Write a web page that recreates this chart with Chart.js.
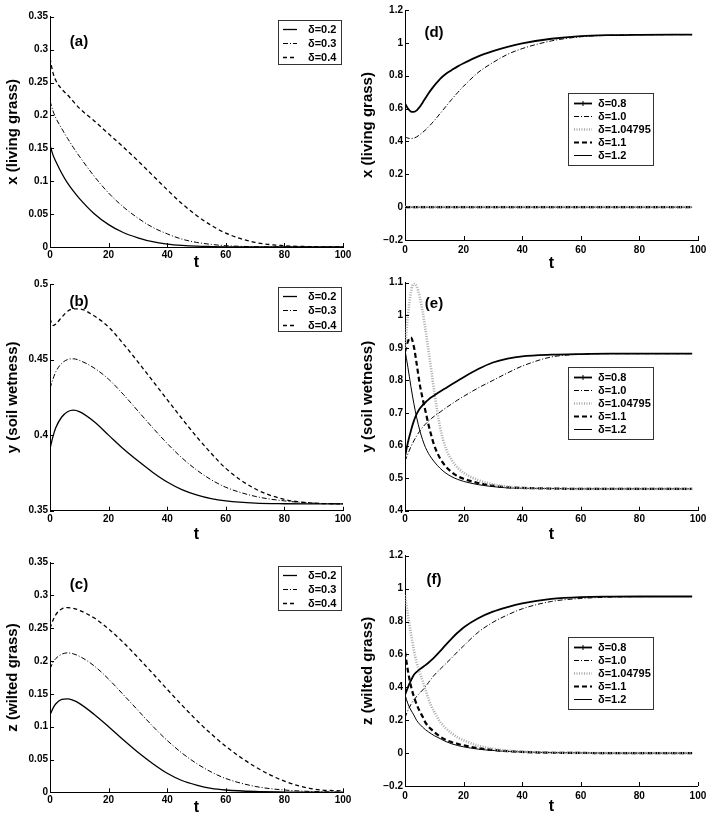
<!DOCTYPE html>
<html>
<head>
<meta charset="utf-8">
<script src="https://cdn.jsdelivr.net/npm/chart.js@4.4.1/dist/chart.umd.min.js"></script>
<style>
  body { margin: 0; background: #fff; }
  #fig { position: relative; width: 711px; height: 819px; overflow: hidden; background: #fff; }
  #fig canvas { position: absolute; }
</style>
</head>
<body>
<div id="fig">
  <canvas id="pa" width="355" height="280" style="left:0;top:0"></canvas>
  <canvas id="pb" width="355" height="280" style="left:0;top:270px"></canvas>
  <canvas id="pc" width="355" height="280" style="left:0;top:540px"></canvas>
  <canvas id="pd" width="356" height="280" style="left:355px;top:0"></canvas>
  <canvas id="pe" width="356" height="280" style="left:355px;top:270px"></canvas>
  <canvas id="pf" width="356" height="280" style="left:355px;top:540px"></canvas>
</div>
<script>
// time samples
const tLeft  = [0, 1, 2, 4, 6, 8, 10, 15, 20, 25, 30, 35, 40, 45, 50, 55, 60, 70, 80, 90, 100]
const tRight = [0, 1, 2, 3, 4, 5, 6, 7, 8, 9, 10, 12, 14, 16, 18, 20, 25, 30, 35, 40, 50, 60, 70, 80, 98]

const leftLabels  = ['δ=0.2', 'δ=0.3', 'δ=0.4']
const rightLabels = ['δ=0.8', 'δ=1.0', 'δ=1.04795', 'δ=1.1', 'δ=1.2']

// (a) x, living grass
const xD02 = [0.155, 0.140, 0.130, 0.112, 0.097, 0.085, 0.074, 0.051, 0.034, 0.022, 0.014, 0.008, 0.0045, 0.0025, 0.0013, 0.0007, 0.0003, 0.0001, 0, 0, 0]
const xD03 = [0.222, 0.207, 0.196, 0.180, 0.165, 0.151, 0.138, 0.108, 0.082, 0.061, 0.044, 0.030, 0.020, 0.012, 0.007, 0.004, 0.002, 0.0005, 0.0001, 0, 0]
const xD04 = [0.287, 0.265, 0.253, 0.240, 0.231, 0.221, 0.211, 0.192, 0.172, 0.152, 0.131, 0.109, 0.087, 0.066, 0.048, 0.033, 0.021, 0.007, 0.002, 0.0005, 0]

// (b) y, soil wetness
const yD02 = [0.391, 0.399, 0.405, 0.412, 0.4155, 0.4165, 0.4155, 0.409, 0.400, 0.391, 0.383, 0.3755, 0.369, 0.364, 0.3605, 0.358, 0.3565, 0.355, 0.3546, 0.3545, 0.3545]
const yD03 = [0.431, 0.437, 0.442, 0.4475, 0.450, 0.4505, 0.4495, 0.4445, 0.437, 0.427, 0.416, 0.405, 0.3945, 0.385, 0.377, 0.3705, 0.3655, 0.3595, 0.3565, 0.355, 0.3545]
const yD04 = [0.477, 0.4725, 0.4735, 0.478, 0.482, 0.4835, 0.4835, 0.479, 0.4715, 0.4605, 0.4485, 0.436, 0.4235, 0.411, 0.399, 0.388, 0.378, 0.3645, 0.3575, 0.355, 0.3545]

// (c) z, wilted grass
const zD02 = [0.118, 0.128, 0.135, 0.1415, 0.1425, 0.140, 0.1355, 0.119, 0.100, 0.080, 0.061, 0.044, 0.029, 0.018, 0.011, 0.006, 0.0035, 0.0012, 0.0004, 0.0001, 0]
const zD03 = [0.188, 0.198, 0.204, 0.2105, 0.2125, 0.211, 0.2075, 0.193, 0.1725, 0.149, 0.125, 0.101, 0.079, 0.060, 0.044, 0.031, 0.021, 0.009, 0.0035, 0.0012, 0.0004]
const zD04 = [0.250, 0.262, 0.271, 0.2795, 0.2815, 0.2805, 0.2775, 0.266, 0.249, 0.2285, 0.2055, 0.1815, 0.157, 0.133, 0.110, 0.089, 0.070, 0.039, 0.017, 0.005, 0.002]

// (d) x, living grass
const xD08  = [0.632, 0.600, 0.582, 0.580, 0.589, 0.610, 0.636, 0.664, 0.692, 0.717, 0.740, 0.781, 0.812, 0.835, 0.857, 0.876, 0.918, 0.950, 0.976, 0.997, 1.025, 1.041, 1.047, 1.049, 1.050]
const xD10  = [0.429, 0.420, 0.418, 0.420, 0.428, 0.440, 0.455, 0.470, 0.488, 0.507, 0.527, 0.570, 0.614, 0.657, 0.698, 0.736, 0.820, 0.880, 0.930, 0.965, 1.012, 1.037, 1.046, 1.049, 1.050]
const xD105 = [0, 0, 0, 0, 0, 0, 0, 0, 0, 0, 0, 0, 0, 0, 0, 0, 0, 0, 0, 0, 0, 0, 0, 0, 0]
const xD11  = [0, 0, 0, 0, 0, 0, 0, 0, 0, 0, 0, 0, 0, 0, 0, 0, 0, 0, 0, 0, 0, 0, 0, 0, 0]
const xD12  = [0, 0, 0, 0, 0, 0, 0, 0, 0, 0, 0, 0, 0, 0, 0, 0, 0, 0, 0, 0, 0, 0, 0, 0, 0]

// (e) y, soil wetness
const yD08  = [0.566, 0.610, 0.645, 0.675, 0.697, 0.713, 0.724, 0.733, 0.741, 0.748, 0.754, 0.766, 0.777, 0.788, 0.799, 0.810, 0.835, 0.855, 0.867, 0.874, 0.879, 0.881, 0.882, 0.882, 0.882]
const yD10  = [0.552, 0.575, 0.596, 0.614, 0.630, 0.644, 0.656, 0.666, 0.675, 0.683, 0.690, 0.703, 0.716, 0.728, 0.740, 0.751, 0.777, 0.800, 0.823, 0.844, 0.872, 0.880, 0.882, 0.882, 0.882]
const yD105 = [0.900, 1.000, 1.070, 1.097, 1.088, 1.058, 1.012, 0.955, 0.893, 0.830, 0.765, 0.655, 0.590, 0.555, 0.532, 0.516, 0.494, 0.481, 0.474, 0.470, 0.468, 0.467, 0.467, 0.467, 0.467]
const yD11  = [0.888, 0.920, 0.932, 0.905, 0.850, 0.790, 0.745, 0.705, 0.665, 0.630, 0.600, 0.560, 0.535, 0.518, 0.506, 0.498, 0.485, 0.477, 0.472, 0.470, 0.468, 0.467, 0.467, 0.467, 0.467]
const yD12  = [0.893, 0.840, 0.782, 0.730, 0.685, 0.648, 0.618, 0.594, 0.576, 0.562, 0.550, 0.530, 0.515, 0.504, 0.496, 0.490, 0.480, 0.474, 0.470, 0.469, 0.468, 0.467, 0.467, 0.467, 0.467]

// (f) z, wilted grass
const zD08  = [0.353, 0.400, 0.440, 0.475, 0.494, 0.509, 0.522, 0.535, 0.549, 0.565, 0.582, 0.620, 0.660, 0.698, 0.733, 0.764, 0.820, 0.860, 0.888, 0.910, 0.937, 0.948, 0.951, 0.952, 0.952]
const zD10  = [0.215, 0.260, 0.295, 0.322, 0.345, 0.365, 0.383, 0.405, 0.428, 0.452, 0.474, 0.510, 0.545, 0.580, 0.617, 0.652, 0.735, 0.795, 0.840, 0.877, 0.922, 0.940, 0.948, 0.951, 0.952]
const zD105 = [0.960, 0.840, 0.730, 0.630, 0.550, 0.490, 0.440, 0.385, 0.330, 0.285, 0.250, 0.190, 0.150, 0.120, 0.095, 0.078, 0.045, 0.026, 0.015, 0.009, 0.003, 0.001, 0, 0, 0]
const zD11  = [0.616, 0.500, 0.410, 0.345, 0.295, 0.255, 0.222, 0.185, 0.162, 0.144, 0.128, 0.100, 0.080, 0.066, 0.056, 0.047, 0.030, 0.019, 0.012, 0.007, 0.002, 0.001, 0, 0, 0]
const zD12  = [0.355, 0.300, 0.262, 0.232, 0.198, 0.176, 0.158, 0.142, 0.129, 0.117, 0.106, 0.088, 0.070, 0.056, 0.046, 0.038, 0.024, 0.016, 0.010, 0.007, 0.003, 0.001, 0, 0, 0]

const FONT = '"Liberation Sans", Arial, sans-serif'

const leftStyles = [
  { borderColor: '#000', borderWidth: 1.3, borderDash: [] },
  { borderColor: '#000', borderWidth: 1, borderDash: [5, 2, 1, 2] },
  { borderColor: '#000', borderWidth: 1.3, borderDash: [4, 3] },
]
const rightStyles = [
  { borderColor: '#000', borderWidth: 1.8, borderDash: [], marker: true },
  { borderColor: '#000', borderWidth: 1, borderDash: [5, 2, 1, 2] },
  { borderColor: '#a9a9a9', borderWidth: 2.6, borderDash: [1, 1.5] },
  { borderColor: '#000', borderWidth: 2.2, borderDash: [5, 3] },
  { borderColor: '#000', borderWidth: 1, borderDash: [] },
]

const toPts = (ts, vs) => ts.map((t, i) => ({ x: t, y: vs[i] }))

// axis ticks pointing inward, panel tag and the boxed legend
const panelDecor = {
  id: 'panelDecor',
  afterDraw(chart, args, o) {
    const { ctx, chartArea: a, scales: { x, y } } = chart
    ctx.save()
    ctx.strokeStyle = '#000'
    ctx.lineWidth = 1
    ctx.setLineDash([])
    x.ticks.forEach(tk => {
      const px = Math.round(x.getPixelForValue(tk.value)) + 0.5
      ctx.beginPath(); ctx.moveTo(px, a.bottom); ctx.lineTo(px, a.bottom - 4); ctx.stroke()
    })
    y.ticks.forEach(tk => {
      const py = Math.round(y.getPixelForValue(tk.value)) + 0.5
      ctx.beginPath(); ctx.moveTo(a.left, py); ctx.lineTo(a.left + 4, py); ctx.stroke()
    })

    ctx.fillStyle = '#000'
    ctx.font = 'bold 15px ' + FONT
    ctx.textAlign = 'center'
    ctx.textBaseline = 'middle'
    ctx.fillText(o.tag, a.left + 29, a.top + o.tagDy)

    let bx, by, bw, bh, row0, rowH, l0, l1, tx
    if (o.legend === 'left') {
      bx = a.right - 65; by = a.top + 3; bw = 63; bh = 44
      row0 = 9; rowH = 14.3; l0 = 5; l1 = 19; tx = 30
    } else {
      bx = a.left + 163; by = a.top + o.legendDy; bw = 85; bh = 72
      row0 = 10; rowH = 13; l0 = 6; l1 = 24; tx = 30
    }
    ctx.fillStyle = '#fff'
    ctx.fillRect(bx, by, bw, bh)
    ctx.strokeStyle = '#333'
    ctx.strokeRect(Math.round(bx) + 0.5, Math.round(by) + 0.5, bw, bh)
    chart.data.datasets.forEach((ds, i) => {
      const yy = Math.round(by + row0 + i * rowH) + 0.5
      ctx.strokeStyle = ds.borderColor
      ctx.lineWidth = ds.borderWidth
      ctx.setLineDash(ds.borderDash)
      ctx.beginPath(); ctx.moveTo(bx + l0, yy); ctx.lineTo(bx + l1, yy); ctx.stroke()
      if (ds.marker) {
        const mx = bx + (l0 + l1) / 2
        ctx.lineWidth = 1
        ctx.setLineDash([])
        ctx.beginPath(); ctx.moveTo(mx, yy - 2.5); ctx.lineTo(mx, yy + 2.5); ctx.stroke()
      }
      ctx.fillStyle = '#000'
      ctx.font = 'bold 11px ' + FONT
      ctx.textAlign = 'left'
      ctx.fillText(ds.label, bx + tx, yy)
    })
    ctx.restore()
  }
}

const fmt = v => {
  const s = String(Number(v.toFixed(3)))
  return s.replace('-', '\u2212')
}

const makePanel = (p) => {
  const styles = p.series.length === 3 ? leftStyles : rightStyles
  const labels = p.series.length === 3 ? leftLabels : rightLabels
  const datasets = p.series.map((vals, i) => Object.assign({
    label: labels[i],
    data: toPts(p.t, vals),
    pointRadius: 0,
    fill: false,
    cubicInterpolationMode: 'monotone',
  }, styles[i]))

  return new Chart(document.getElementById(p.id), {
    type: 'line',
    data: { datasets },
    options: {
      responsive: false,
      animation: false,
      events: [],
      layout: { padding: { left: 0, right: p.padRight, top: p.padTop, bottom: 0 } },
      scales: {
        x: {
          type: 'linear', min: 0, max: 100,
          grid: { display: false, drawTicks: false },
          border: { display: true, color: '#000', width: 1 },
          ticks: { stepSize: 20, padding: p.tickPad, color: '#000', maxRotation: 0, autoSkip: false,
                   font: { family: FONT, size: 10, weight: 'bold' } },
          title: { display: true, text: 't', color: '#000',
                   font: { family: FONT, size: 16, weight: 'bold' },
                   padding: { top: 0, bottom: 280 - p.tY - 9.6 } },
          afterFit: s => { s.height = 280 - p.plotBottom }
        },
        y: {
          type: 'linear', min: p.yMin, max: p.yMax,
          grid: { display: false, drawTicks: false },
          border: { display: true, color: '#000', width: 1 },
          ticks: { stepSize: p.yStep, padding: 2, color: '#000', autoSkip: false,
                   font: { family: FONT, size: 10, weight: 'bold' }, callback: fmt },
          title: { display: true, text: p.yTitle, color: '#000',
                   font: { family: FONT, size: 15, weight: 'bold' },
                   padding: { top: 4, bottom: 0 } },
          afterFit: s => { s.width = 50 }
        }
      },
      plugins: {
        legend: { display: false },
        tooltip: { enabled: false },
        panelDecor: { tag: p.tag, tagDy: p.tagDy, legend: p.legend, legendDy: p.legendDy }
      }
    },
    plugins: [panelDecor]
  })
}

const panels = [
  { id: 'pa', tag: '(a)', yTitle: 'x (living grass)', yMin: 0, yMax: 0.35, yStep: 0.05, t: tLeft,
    series: [xD02, xD03, xD04], legend: 'left', padRight: 12, padTop: 16.7, plotBottom: 247, tickPad: 2.7, tY: 263, tagDy: 25 },
  { id: 'pb', tag: '(b)', yTitle: 'y (soil wetness)', yMin: 0.35, yMax: 0.5, yStep: 0.05, t: tLeft,
    series: [yD02, yD03, yD04], legend: 'left', padRight: 12, padTop: 14, plotBottom: 240.7, tickPad: 2.6, tY: 265, tagDy: 17.7 },
  { id: 'pc', tag: '(c)', yTitle: 'z (wilted grass)', yMin: 0, yMax: 0.35, yStep: 0.05, t: tLeft,
    series: [zD02, zD03, zD04], legend: 'left', padRight: 12, padTop: 22.7, plotBottom: 252.3, tickPad: 1.7, tY: 268, tagDy: 22.3 },
  { id: 'pd', tag: '(d)', yTitle: 'x (living grass)', yMin: -0.2, yMax: 1.2, yStep: 0.2, t: tRight,
    series: [xD08, xD10, xD105, xD11, xD12], legend: 'right', legendDy: 83, padRight: 13, padTop: 10, plotBottom: 240, tickPad: 4, tY: 263.3, tagDy: 22.7 },
  { id: 'pe', tag: '(e)', yTitle: 'y (soil wetness)', yMin: 0.4, yMax: 1.1, yStep: 0.1, t: tRight,
    series: [yD08, yD10, yD105, yD11, yD12], legend: 'right', legendDy: 84, padRight: 13, padTop: 12.7, plotBottom: 240.7, tickPad: 2.6, tY: 265, tagDy: 21.5 },
  { id: 'pf', tag: '(f)', yTitle: 'z (wilted grass)', yMin: -0.2, yMax: 1.2, yStep: 0.2, t: tRight,
    series: [zD08, zD10, zD105, zD11, zD12], legend: 'right', legendDy: 81, padRight: 13, padTop: 15.7, plotBottom: 246, tickPad: 4.7, tY: 266.7, tagDy: 24 },
]

panels.forEach(makePanel)
</script>
</body>
</html>
